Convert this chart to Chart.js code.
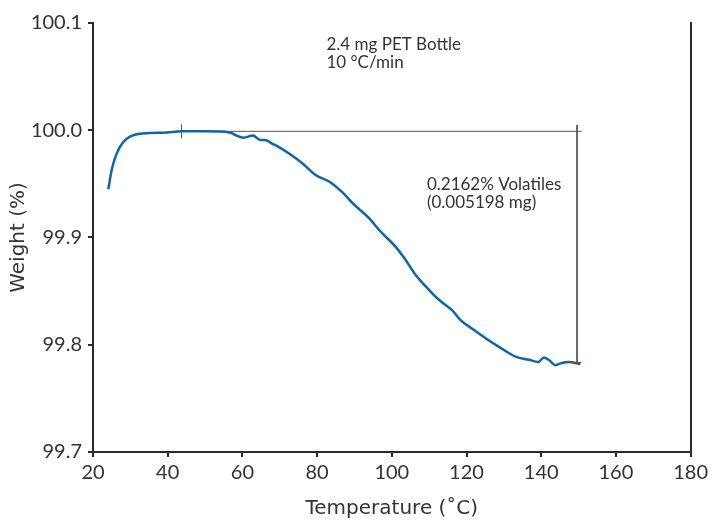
<!DOCTYPE html>
<html>
<head>
<meta charset="utf-8">
<script src="https://cdn.jsdelivr.net/npm/chart.js@4"></script>
<style>
  html, body { margin: 0; padding: 0; background: #fff; }
  #wrap { width: 712px; height: 520px; }
</style>
</head>
<body>
<div id="wrap"><canvas id="tga"></canvas></div>
<script>
// Datos de la curva TGA (temperatura en °C, peso en %)
const temps   = [24.1, 25.0, 26.3, 28.1, 29.9, 33.4, 39.7, 43.7, 50.0, 56.6, 58.4, 60.3, 62.8, 64.8, 66.1, 67.7, 69.9, 72.6, 76.1, 79.7, 83.3, 86.8, 89.5, 93.9, 96.6, 101.1, 103.7, 106.4, 110.0, 112.6, 116.2, 118.4, 121.5, 125.1, 128.7, 133.1, 136.7, 139.3, 140.7, 142.0, 143.8, 145.5, 147.3, 150.5];
const weights = [99.945, 99.963, 99.978, 99.989, 99.994, 99.997, 99.998, 99.999, 99.999, 99.998, 99.995, 99.993, 99.995, 99.991, 99.991, 99.988, 99.984, 99.978, 99.969, 99.958, 99.952, 99.942, 99.932, 99.918, 99.907, 99.891, 99.879, 99.865, 99.851, 99.842, 99.832, 99.823, 99.815, 99.806, 99.798, 99.789, 99.786, 99.784, 99.788, 99.786, 99.781, 99.783, 99.784, 99.782];

// Marcas del cálculo de volátiles
const stepStartX = 43.7;
const stepEndX = 149.6;
const stepTopY = 99.999;
const stepBottomY = 99.7835;

const xTicks = [20, 40, 60, 80, 100, 120, 140, 160, 180];
const yTicks = [99.7, 99.8, 99.9, 100.0, 100.1];

const labels = [
    { x: 82.5, y: 100.0875, lines: ['2.4 mg PET Bottle', '10 °C/min'] },
    { x: 109.4, y: 99.957, lines: ['0.2162% Volatiles', '(0.005198 mg)'] }
];

const axisColor = '#2b2b2b';
const curveColor = '#0d66ab';
const markColor = '#555555';
const fontFamily = 'Lato, "DejaVu Sans", sans-serif';
const titleFamily = '"DejaVu Sans", sans-serif';

// Segmentos de la anotación (null separa los trazos)
const markPoints = [
    { x: stepStartX, y: stepTopY - 0.0065 }, { x: stepStartX, y: stepTopY + 0.0065 }, { x: NaN, y: null },
    { x: stepStartX, y: stepTopY }, { x: stepEndX + 1.2, y: stepTopY }, { x: NaN, y: null },
    { x: stepEndX, y: stepTopY + 0.006 }, { x: stepEndX, y: stepBottomY }, { x: NaN, y: null },
    { x: stepEndX - 2.3, y: stepBottomY }, { x: stepEndX + 1.2, y: stepBottomY }
];

const textPlugin = {
    id: 'textLabels',
    afterDatasetsDraw(chart) {
        const { ctx, scales } = chart;
        ctx.save();
        ctx.fillStyle = '#333';
        ctx.font = '17px ' + fontFamily;
        ctx.textBaseline = 'top';
        labels.forEach(l => {
            const px = scales.x.getPixelForValue(l.x);
            const py = scales.y.getPixelForValue(l.y);
            l.lines.forEach((t, i) => ctx.fillText(t, px, py + i * 18));
        });
        ctx.restore();
    }
};

const ctx = document.getElementById('tga').getContext('2d');
new Chart(ctx, {
    type: 'line',
    data: {
        datasets: [
            {
                data: markPoints,
                borderColor: markColor,
                borderWidth: 1,
                pointRadius: 0,
                spanGaps: false,
                tension: 0
            },
            {
                data: temps.map((t, i) => ({ x: t, y: weights[i] })),
                borderColor: curveColor,
                borderWidth: 2.5,
                pointRadius: 0,
                cubicInterpolationMode: 'monotone'
            }
        ]
    },
    options: {
        responsive: true,
        maintainAspectRatio: false,
        animation: false,
        layout: { padding: { top: 23, right: 20, left: 0, bottom: 0 } },
        plugins: {
            legend: { display: false },
            tooltip: { enabled: false }
        },
        scales: {
            x: {
                type: 'linear',
                min: 20,
                max: 180,
                afterBuildTicks: s => { s.ticks = xTicks.map(v => ({ value: v })); },
                afterFit: s => { s.height = 68; },
                grid: { display: true, drawOnChartArea: false, tickLength: 5, color: axisColor, lineWidth: 2 },
                border: { color: axisColor, width: 2 },
                ticks: { color: '#333', font: { family: fontFamily, size: 20 }, padding: 4, maxRotation: 0 },
                title: {
                    display: true,
                    text: 'Temperature (˚C)',
                    color: '#333',
                    font: { family: titleFamily, size: 20 },
                    padding: { top: 0, bottom: -1 }
                }
            },
            y: {
                min: 99.7,
                max: 100.1,
                afterBuildTicks: s => { s.ticks = yTicks.map(v => ({ value: v })); },
                afterFit: s => { s.width = 93; },
                grid: { display: true, drawOnChartArea: false, tickLength: 5, color: axisColor, lineWidth: 2 },
                border: { color: axisColor, width: 2 },
                ticks: {
                    color: '#333',
                    font: { family: fontFamily, size: 20 },
                    padding: 6,
                    callback: v => v.toFixed(1)
                },
                title: {
                    display: true,
                    text: 'Weight (%)',
                    color: '#333',
                    font: { family: titleFamily, size: 20 },
                    padding: { top: 7, bottom: 0 }
                }
            },
            yRight: {
                position: 'right',
                min: 99.7,
                max: 100.1,
                afterFit: s => { s.width = 0; },
                grid: { display: false },
                ticks: { display: false },
                border: { color: axisColor, width: 2 }
            }
        }
    },
    plugins: [textPlugin]
});
</script>
</body>
</html>
